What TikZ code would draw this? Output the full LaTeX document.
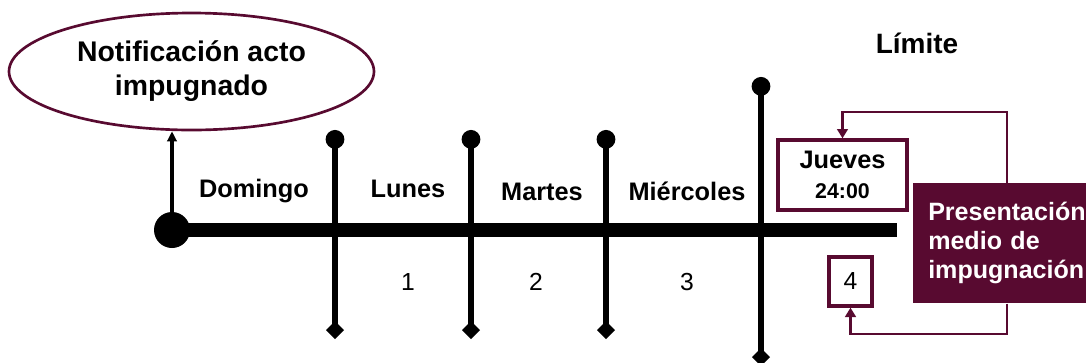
\documentclass[tikz,border=0pt]{standalone}
\usepackage{fontspec}
\setmainfont{Liberation Sans}
\usetikzlibrary{arrows.meta,shapes.geometric}
\definecolor{vino}{RGB}{88,10,48}

\begin{document}
\begin{tikzpicture}[x=0.75pt,y=-0.75pt,
  dia/.style={font=\fontsize{19pt}{22pt}\selectfont\bfseries},
  num/.style={font=\fontsize{18.5pt}{22pt}\selectfont},
  corte/.style={line width=4.5pt,{Circle[length=14pt]}-{Diamond[length=13.5pt,width=13.5pt]}},
  enlace/.style={draw=vino,line width=2.2pt,-{Triangle[length=7pt,width=8pt]}},
  caja/.style={draw=vino,line width=2.5pt,fill=white,inner sep=0pt}]

\clip (0,0) rectangle (1086,362);

% Acto notificado
\node[ellipse,draw=vino,line width=2pt,minimum width=273.75pt,minimum height=87.75pt,
  align=center,font=\fontsize{21.3pt}{25.5pt}\selectfont\bfseries] (notif) at (191.5,71.5)
  {Notificación acto\\impugnado};

% Linea de tiempo
\coordinate (fin) at (897,230);
\node[circle,fill,inner sep=0pt,minimum size=27pt] (origen) at (172,230) {};
\draw[line width=10.5pt] (origen.center) -- (fin);
\draw[line width=2.6pt,-{Triangle[length=7.5pt,width=7pt]}] (origen) -- (origen |- notif.south);

% Cortes de dia
\foreach \x in {335,471,606}
  \draw[corte] (\x,130) -- (\x,339);
\draw[corte] (761,77) -- (761,366);

% Dias y plazos
\node[dia,anchor=base] (dom) at (254,197) {Domingo};
\node[dia,anchor=base] (lun) at (408,197) {Lunes};
\node[dia,anchor=base] (mar) at (542,200) {Martes};
\node[dia,anchor=base] (mie) at (687,200) {Miércoles};
\node[num,anchor=base] (n1) at (408,290) {1};
\node[num,anchor=base] (n2) at (536,290) {2};
\node[num,anchor=base] (n3) at (687,290) {3};

% Limite
\node[font=\fontsize{21pt}{25pt}\selectfont\bfseries,anchor=base] (lim) at (917,53) {Límite};
\node[caja,dia,minimum width=96.75pt,minimum height=52.5pt,align=center] (jueves) at (842.5,175)
  {Jueves\\{\fontsize{16pt}{24pt}\selectfont 24:00}};
\node[caja,num,minimum width=32.25pt,minimum height=36.75pt] (cuatro) at (850.5,281.5) {4};

% Presentacion
\node[fill=vino,text=white,anchor=north west,minimum height=90pt,text width=130pt,
  inner xsep=11.25pt,align=left,font=\fontsize{18.8pt}{21.75pt}\selectfont\bfseries] (pres) at (913,183)
  {Presentación\\medio de\\impugnación};

% Enlaces
\coordinate (esq1) at (1007,112);
\coordinate (esq2) at (1007,334);
\draw[enlace] (esq1 |- pres.north) -- (esq1) -| (jueves.north);
\draw[enlace] (esq2 |- pres.south) -- (esq2) -| (cuatro.south);

\end{tikzpicture}
\end{document}
